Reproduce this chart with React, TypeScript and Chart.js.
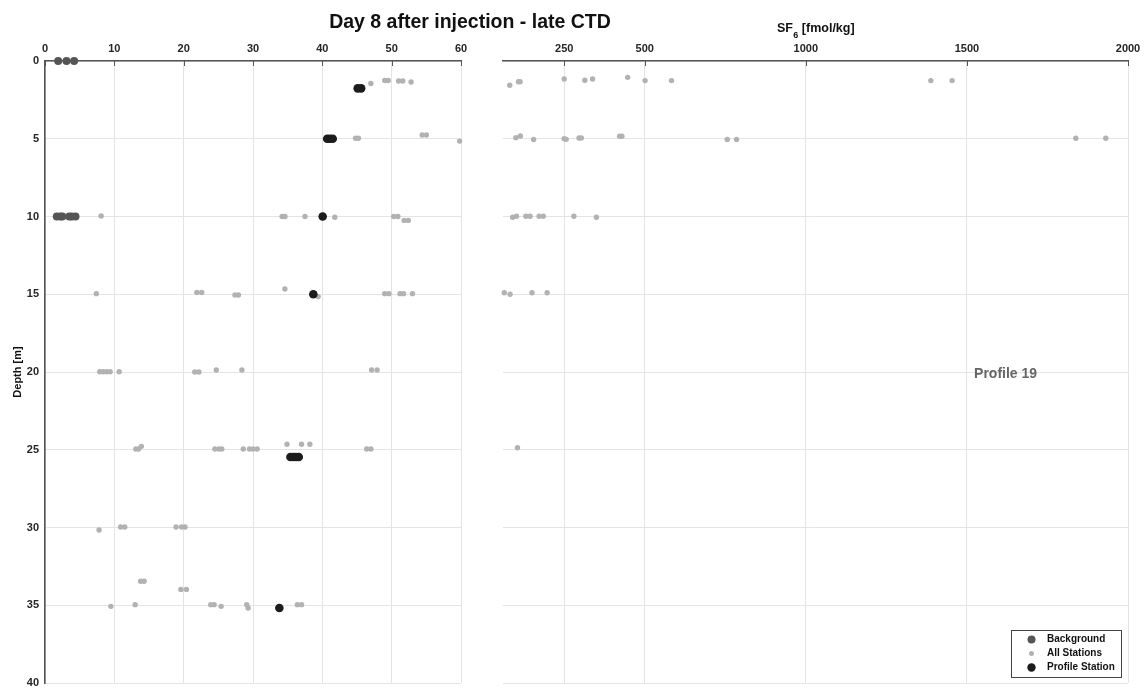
import React, { useEffect, useRef } from "react";
import { Chart, registerables } from "chart.js";
Chart.register(...registerables);

const FONT = "'Liberation Sans', Arial, Helvetica, sans-serif";

// Axis ticks
const depthTicks = [0, 5, 10, 15, 20, 25, 30, 35, 40];
const leftTicks = [0, 10, 20, 30, 40, 50, 60];
const sf6Ticks = [250, 500, 1000, 1500, 2000];

// Left panel – Background stations
const bgX = [1.9, 3.1, 4.2, 1.7, 2.2, 2.5, 3.5, 3.85, 4.4];
const bgDepth = [0, 0, 0, 10, 10, 10, 10, 10, 10];

// Left panel – Profile station
const profX = [45.1, 45.6, 40.7, 41.1, 41.5, 40.05, 38.7, 35.4, 35.8, 36.2, 36.6, 33.8];
const profDepth = [1.76, 1.76, 5, 5, 5, 10, 15, 25.47, 25.47, 25.47, 25.47, 35.18];

// Left panel – All stations
const allX = [
  47.0, 49.0, 49.5, 51.0, 51.6, 52.8,
  44.8, 45.2, 54.4, 55.0, 59.8,
  8.1, 34.2, 34.6, 37.5, 41.8, 50.3, 50.9, 51.8, 52.4,
  7.4, 21.9, 22.6, 27.4, 27.9, 34.6, 39.4, 49.0, 49.6, 51.2, 51.7, 53.0,
  7.9, 8.4, 8.9, 9.4, 10.7, 21.6, 22.2, 24.7, 28.4, 47.1, 47.9,
  13.1, 13.5, 13.9, 24.5, 25.1, 25.5, 28.6, 29.5, 30.0, 30.6, 34.9, 37.0, 38.2, 46.4, 47.0,
  7.8, 10.9, 11.5, 18.9, 19.7, 20.2,
  13.8, 14.3, 19.6, 20.4,
  9.5, 13.0, 23.9, 24.4, 25.4, 29.1, 29.3, 36.4, 37.0,
];
const allDepth = [
  1.45, 1.25, 1.25, 1.29, 1.29, 1.35,
  4.97, 4.97, 4.76, 4.76, 5.15,
  9.97, 10, 10, 10, 10.05, 10, 10, 10.25, 10.25,
  14.96, 14.88, 14.88, 15.05, 15.05, 14.66, 15.15, 14.96, 14.96, 14.96, 14.96, 14.96,
  19.98, 19.98, 19.98, 19.98, 19.98, 20, 20, 19.87, 19.87, 19.87, 19.87,
  24.95, 24.95, 24.78, 24.95, 24.95, 24.95, 24.95, 24.95, 24.95, 24.95, 24.65, 24.65, 24.65, 24.95, 24.95,
  30.16, 29.97, 29.97, 29.97, 29.97, 29.97,
  33.46, 33.46, 33.98, 33.98,
  35.07, 34.96, 34.96, 34.96, 35.07, 34.96, 35.18, 34.96, 34.96,
];

// Right panel – SF6 all stations
const sf6Values = [
  81, 108, 113, 250, 314, 338, 447, 501, 583, 1388, 1454,
  100, 114, 155, 250, 256, 296, 303, 422, 429, 756, 785, 1838, 1931,
  90, 102, 131, 144, 172, 185, 280, 350,
  64, 82, 150, 197,
  105,
];
const sf6Depth = [
  1.56, 1.33, 1.33, 1.16, 1.24, 1.16, 1.05, 1.26, 1.26, 1.26, 1.26,
  4.93, 4.82, 5.05, 5.0, 5.04, 4.95, 4.95, 4.84, 4.84, 5.05, 5.05, 4.97, 4.97,
  10.05, 9.98, 9.98, 9.98, 9.98, 9.98, 9.98, 10.05,
  14.9, 15.0, 14.9, 14.9,
  24.87,
];

const legendItems = ["Background", "All Stations", "Profile Station"];
const COL_BG = "#555555";
const COL_ALL = "#b2b2b2";
const COL_PROF = "#1c1c1c";
const legendColors = [COL_BG, COL_ALL, COL_PROF];
const legendRadii = [4, 2.5, 4.2];

const GRID = "#e4e4e4";
const AXIS = "#555555";
const TICKTXT = "#262626";

const pts = (xs: number[], ys: number[]) => xs.map((x, i) => ({ x, y: ys[i] }));

const inwardTicks = {
  id: "inwardTicks",
  afterDraw(chart: any) {
    const { ctx, chartArea } = chart;
    const sx = chart.scales.x;
    ctx.save();
    ctx.strokeStyle = AXIS;
    ctx.lineWidth = 1;
    sx.ticks.forEach((t: any) => {
      const px = Math.round(sx.getPixelForValue(t.value)) + 0.5;
      ctx.beginPath();
      ctx.moveTo(px, chartArea.top);
      ctx.lineTo(px, chartArea.top + 5);
      ctx.stroke();
    });
    ctx.restore();
  },
};

const titlePlugin = {
  id: "mainTitle",
  afterDraw(chart: any) {
    const { ctx } = chart;
    ctx.save();
    ctx.font = `bold 19.5px ${FONT}`;
    ctx.fillStyle = "#111";
    ctx.textAlign = "center";
    ctx.textBaseline = "alphabetic";
    ctx.fillText("Day 8 after injection - late CTD", 470, 28);
    ctx.restore();
  },
};

const rightDecor = {
  id: "rightDecor",
  afterDraw(chart: any) {
    const { ctx, chartArea } = chart;
    const sx = chart.scales.x;
    const sy = chart.scales.y;
    ctx.save();
    // SF6 axis label
    const big = `bold 12.5px ${FONT}`;
    const small = `bold 9px ${FONT}`;
    ctx.fillStyle = "#111";
    ctx.textBaseline = "alphabetic";
    ctx.textAlign = "left";
    ctx.font = big;
    const w1 = ctx.measureText("SF").width;
    const w3 = ctx.measureText(" [fmol/kg]").width;
    ctx.font = small;
    const w2 = ctx.measureText("6").width;
    const cx = (chartArea.left + chartArea.right) / 2;
    const x0 = cx - (w1 + w2 + w3) / 2;
    ctx.font = big;
    ctx.fillText("SF", x0, 32);
    ctx.font = small;
    ctx.fillText("6", x0 + w1 + 0.5, 37.5);
    ctx.font = big;
    ctx.fillText(" [fmol/kg]", x0 + w1 + w2 + 0.5, 32);

    // Profile annotation
    ctx.font = `bold 14px ${FONT}`;
    ctx.fillStyle = "#666";
    ctx.textAlign = "center";
    ctx.fillText("Profile 19", sx.getPixelForValue(1620), sy.getPixelForValue(20) + 5.5);

    // Legend
    const bx = 1011, by = 630, bw = 110, bh = 47;
    ctx.fillStyle = "#fff";
    ctx.fillRect(bx, by, bw, bh);
    ctx.strokeStyle = "#444";
    ctx.lineWidth = 1;
    ctx.strokeRect(bx + 0.5, by + 0.5, bw, bh);
    ctx.font = `bold 10px ${FONT}`;
    ctx.textAlign = "left";
    ctx.textBaseline = "middle";
    legendItems.forEach((lbl, i) => {
      const yy = by + 9.5 + i * 14;
      ctx.fillStyle = legendColors[i];
      ctx.beginPath();
      ctx.arc(bx + 20.5, yy, legendRadii[i], 0, Math.PI * 2);
      ctx.fill();
      ctx.fillStyle = "#111";
      ctx.fillText(lbl, bx + 36, yy);
    });
    ctx.restore();
  },
};

export default function App() {
  const leftRef = useRef<HTMLCanvasElement>(null);
  const rightRef = useRef<HTMLCanvasElement>(null);

  useEffect(() => {
    Chart.defaults.font.family = FONT;
    const tickFont = { family: FONT, size: 11, weight: "bold" as const };
    const plain = (v: any) => String(v);

    const c1 = new Chart(leftRef.current!, {
      type: "scatter",
      data: {
        datasets: [
          {
            label: legendItems[2],
            data: pts(profX, profDepth),
            pointRadius: 4.3,
            pointBackgroundColor: COL_PROF,
            pointBorderWidth: 0,
            order: 0,
            clip: false as any,
          },
          {
            label: legendItems[0],
            data: pts(bgX, bgDepth),
            pointRadius: 4,
            pointBackgroundColor: COL_BG,
            pointBorderWidth: 0,
            order: 1,
            clip: false as any,
          },
          {
            label: legendItems[1],
            data: pts(allX, allDepth),
            pointRadius: 2.7,
            pointBackgroundColor: COL_ALL,
            pointBorderWidth: 0,
            order: 2,
            clip: false as any,
          },
        ],
      },
      options: {
        animation: false,
        responsive: false,
        devicePixelRatio: 1,
        layout: { padding: { left: 0, top: 0, right: 1145 - 461, bottom: 5 } },
        plugins: { legend: { display: false }, tooltip: { enabled: false }, title: { display: false } },
        scales: {
          x: {
            type: "linear",
            position: "top",
            min: leftTicks[0],
            max: leftTicks[leftTicks.length - 1],
            afterBuildTicks: (s: any) => { s.ticks = leftTicks.map((v) => ({ value: v })); },
            afterFit: (s: any) => { s.height = 61; s.paddingLeft = 0; s.paddingRight = 0; },
            ticks: { font: tickFont, color: TICKTXT, padding: 5, maxRotation: 0, minRotation: 0, autoSkip: false, callback: plain },
            grid: { color: GRID, lineWidth: 1, drawTicks: false },
            border: { color: AXIS, width: 1.6 },
          },
          y: {
            type: "linear",
            position: "left",
            reverse: true,
            min: depthTicks[0],
            max: depthTicks[depthTicks.length - 1],
            afterBuildTicks: (s: any) => { s.ticks = depthTicks.map((v) => ({ value: v })); },
            afterFit: (s: any) => { s.width = 45; s.paddingTop = 0; s.paddingBottom = 0; },
            ticks: { font: tickFont, color: TICKTXT, padding: 6, autoSkip: false, callback: plain },
            grid: { color: GRID, lineWidth: 1, drawTicks: false },
            border: { color: AXIS, width: 1.6 },
            title: { display: true, text: "Depth [m]", font: tickFont, color: "#111", padding: { top: 11, bottom: 0 } },
          },
        },
      },
      plugins: [inwardTicks, titlePlugin],
    } as any);

    const c2 = new Chart(rightRef.current!, {
      type: "scatter",
      data: {
        datasets: [
          {
            label: legendItems[1],
            data: pts(sf6Values, sf6Depth),
            pointRadius: 2.7,
            pointBackgroundColor: COL_ALL,
            pointBorderWidth: 0,
            clip: false as any,
          },
        ],
      },
      options: {
        animation: false,
        responsive: false,
        devicePixelRatio: 1,
        layout: { padding: { left: 503, top: 0, right: 1145 - 1128, bottom: 5 } },
        plugins: { legend: { display: false }, tooltip: { enabled: false }, title: { display: false } },
        scales: {
          x: {
            type: "linear",
            position: "top",
            min: 60,
            max: 2000,
            afterBuildTicks: (s: any) => { s.ticks = sf6Ticks.map((v) => ({ value: v })); },
            afterFit: (s: any) => { s.height = 61; s.paddingLeft = 0; s.paddingRight = 0; },
            ticks: { font: tickFont, color: TICKTXT, padding: 5, maxRotation: 0, minRotation: 0, autoSkip: false, callback: plain },
            grid: { color: GRID, lineWidth: 1, drawTicks: false },
            border: { color: AXIS, width: 1.6 },
          },
          y: {
            type: "linear",
            position: "left",
            reverse: true,
            min: depthTicks[0],
            max: depthTicks[depthTicks.length - 1],
            afterBuildTicks: (s: any) => { s.ticks = depthTicks.map((v) => ({ value: v })); },
            afterFit: (s: any) => { s.width = 0; s.paddingTop = 0; s.paddingBottom = 0; },
            ticks: { display: false },
            grid: { color: GRID, lineWidth: 1, drawTicks: false },
            border: { display: false },
          },
        },
      },
      plugins: [inwardTicks, rightDecor],
    } as any);

    return () => {
      c1.destroy();
      c2.destroy();
    };
  }, []);

  const cs: React.CSSProperties = { position: "absolute", left: 0, top: 0, width: 1145, height: 688 };
  return (
    <div style={{ position: "absolute", left: 0, top: 0, width: 1145, height: 688, background: "#fff" }}>
      <canvas ref={leftRef} width={1145} height={688} style={cs} />
      <canvas ref={rightRef} width={1145} height={688} style={cs} />
    </div>
  );
}
